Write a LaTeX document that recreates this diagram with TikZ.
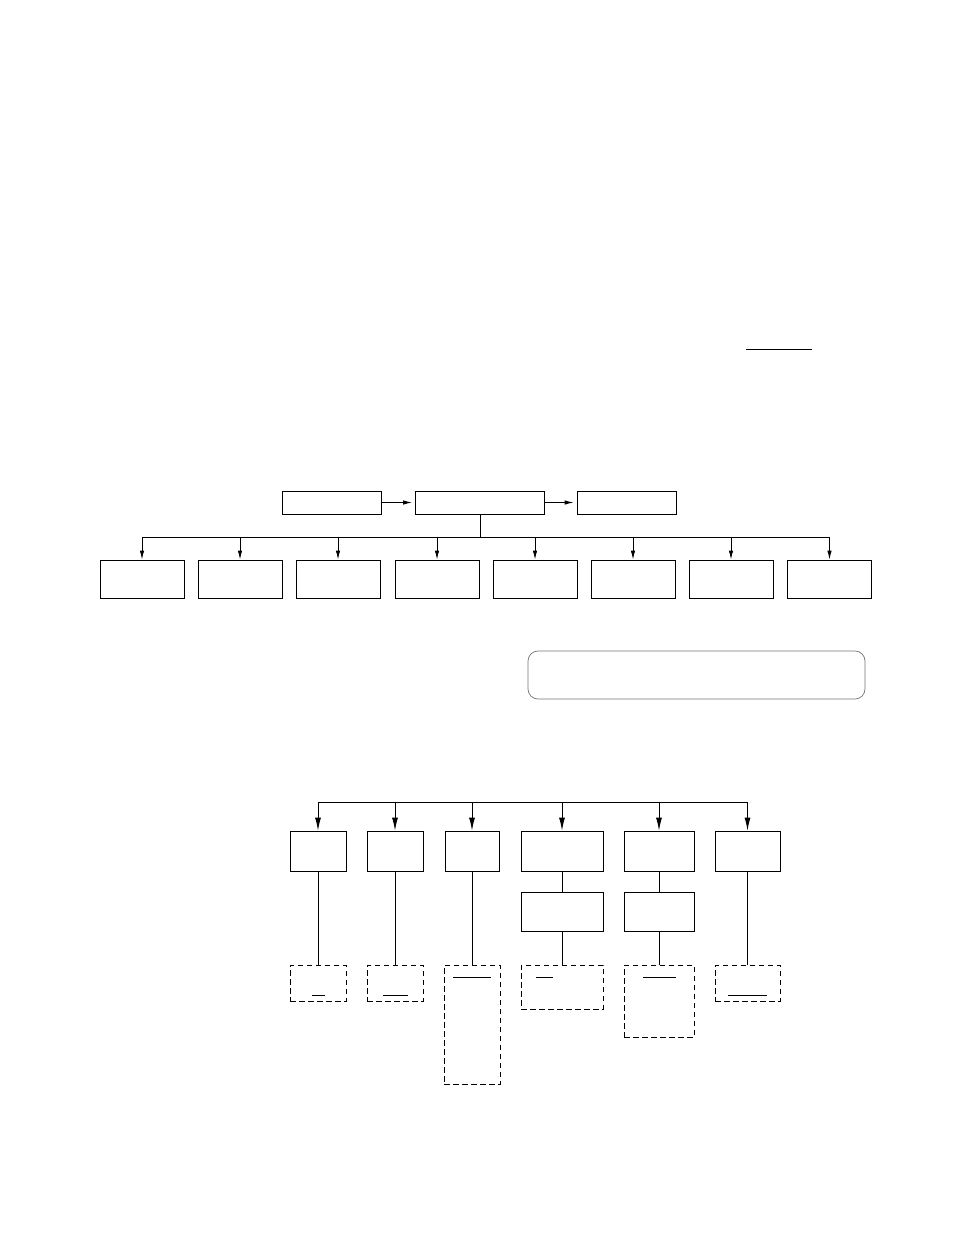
\documentclass[tikz,border=0pt]{standalone}
\usepackage{tikz}
\usetikzlibrary{arrows.meta}

\begin{document}
\begin{tikzpicture}[x=1pt,y=-1pt]

	\tikzset{box/.style = {shape=rectangle,draw,inner sep=0pt,line width=0.9pt}}
	\tikzset{dashbox/.style = {box,dash pattern=on 5.5pt off 3.5pt}}
	\tikzset{note/.style = {shape=rectangle,draw=black!55,line width=0.7pt,rounded corners=10pt,inner sep=0pt}}
	\tikzset{edge/.style = {line width=0.9pt,-{Latex[length=9pt,width=4.5pt]}}}
	\tikzset{bigedge/.style = {line width=0.9pt,-{Latex[length=13pt,width=6pt]}}}
	\tikzset{link/.style = {line width=0.9pt}}
	\tikzset{uline/.style = {line width=1pt}}

	\useasboundingbox (0,0) rectangle (954,1235);

	\draw[uline] (746,349) -- (812,349);

	% top row
	\node[box,minimum width=99pt,minimum height=23pt] (src) at (331.5,502.5) {};
	\node[box,minimum width=129pt,minimum height=23pt] (hub) at (480,502.5) {};
	\node[box,minimum width=99pt,minimum height=23pt] (dst) at (626.5,502.5) {};
	\draw[edge,shorten >=3pt] (src) to (hub);
	\draw[edge,shorten >=3pt] (hub) to (dst);

	% second row
	\foreach \i [count=\n] in {142,240,338,437,535,633,731,829.5}
		\node[box,minimum width=84pt,minimum height=38pt] (r\n) at (\i,579) {};
	\coordinate (bus) at (479,537);
	\draw[link] (hub.south) -- (hub.south |- bus);
	\draw[link] (bus -| r1.north) -- (bus -| r8.north);
	\foreach \n in {1,...,8}
		\draw[edge] (bus -| r\n.north) -- (r\n.north);

	\node[note,minimum width=337pt,minimum height=48pt] (memo) at (696.5,675) {};

	% lower tree
	\node[box,minimum width=56pt,minimum height=40pt] (b1) at (318,851) {};
	\node[box,minimum width=56pt,minimum height=40pt] (b2) at (395,851) {};
	\node[box,minimum width=54pt,minimum height=40pt] (b3) at (472,851) {};
	\node[box,minimum width=82pt,minimum height=40pt] (b4) at (562,851) {};
	\node[box,minimum width=70pt,minimum height=40pt] (b5) at (659,851) {};
	\node[box,minimum width=65pt,minimum height=40pt] (b6) at (747.5,851) {};
	\node[box,minimum width=82pt,minimum height=39pt] (c4) at (562,911.5) {};
	\node[box,minimum width=70pt,minimum height=39pt] (c5) at (659,911.5) {};

	\node[dashbox,minimum width=56pt,minimum height=36pt] (d1) at (318,983) {};
	\node[dashbox,minimum width=56pt,minimum height=36pt] (d2) at (395,983) {};
	\node[dashbox,minimum width=56pt,minimum height=119pt] (d3) at (472,1024.5) {};
	\node[dashbox,minimum width=82pt,minimum height=44pt] (d4) at (562,987) {};
	\node[dashbox,minimum width=70pt,minimum height=72pt] (d5) at (659,1001) {};
	\node[dashbox,minimum width=65pt,minimum height=36pt] (d6) at (747.5,983) {};

	\coordinate (lbus) at (318,802);
	\draw[link] (lbus -| b1.north) -- (lbus -| b6.north);
	\foreach \n in {1,...,6}
		\draw[bigedge] (lbus -| b\n.north) -- (b\n.north);

	\draw[link] (b1) -- (d1);
	\draw[link] (b2) -- (d2);
	\draw[link] (b3) -- (d3);
	\draw[link] (b4) -- (c4);
	\draw[link] (c4) -- (d4);
	\draw[link] (b5) -- (c5);
	\draw[link] (c5) -- (d5);
	\draw[link] (b6) -- (d6);

	% underlines in the dashed boxes
	\draw[uline] (312,995) -- (325,995);
	\draw[uline] (383,995) -- (408,995);
	\draw[uline] (453,977) -- (491,977);
	\draw[uline] (536,977) -- (553,977);
	\draw[uline] (643,977) -- (676,977);
	\draw[uline] (728,995) -- (767,995);

\end{tikzpicture}
\end{document}
